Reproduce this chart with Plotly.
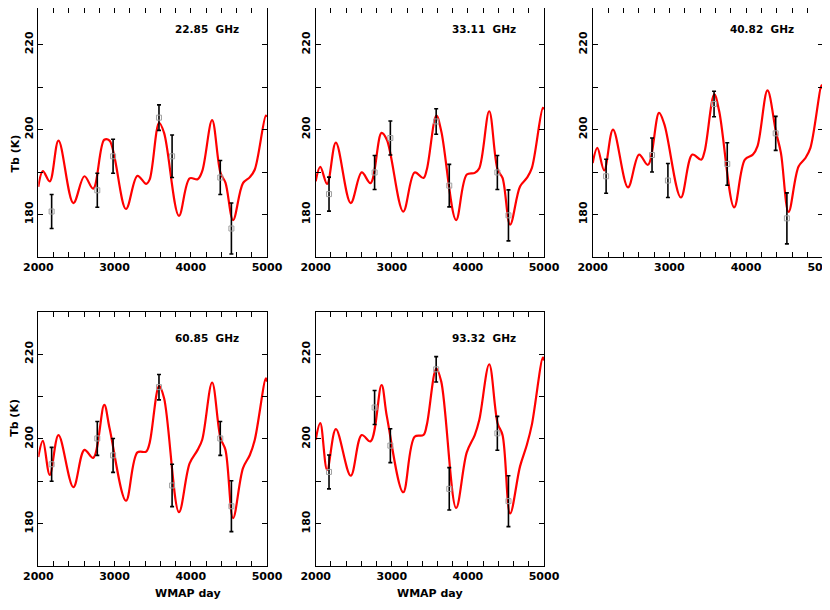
import plotly.graph_objects as go

curve_days = [2000, 2060, 2150, 2265, 2460, 2605, 2720, 2865, 2935, 3150,
              3300, 3415, 3460, 3585, 3650, 3845, 3985, 4090, 4150, 4280,
              4390, 4455, 4555, 4685, 4775, 4840, 4985, 5000]

tb_2285 = [186.5, 190.2, 187.8, 197.4, 182.7, 189.0, 186.1, 197.6, 197.4, 181.3,
           189.1, 187.2, 188.2, 201.6, 199.2, 179.7, 188.5, 188.3, 190.2, 202.2,
           189.8, 187.5, 178.7, 187.4, 188.8, 190.6, 203.3, 203.0]
tb_3311 = [187.8, 191.2, 187.2, 196.9, 182.7, 189.9, 187.4, 199.2, 197.6, 180.7,
           189.9, 188.6, 190.6, 203.3, 199.6, 178.7, 189.4, 189.8, 190.9, 204.3,
           190.6, 188.6, 177.6, 186.6, 188.6, 190.9, 205.1, 204.8]
tb_4082 = [192.1, 195.7, 190.4, 200.0, 186.4, 194.1, 191.7, 203.9, 201.2, 184.0,
           194.1, 192.9, 194.9, 208.3, 204.3, 181.7, 192.9, 194.1, 196.1, 209.2,
           199.5, 194.5, 180.6, 191.3, 193.3, 195.7, 210.4, 209.5]
tb_6085 = [195.7, 199.5, 191.5, 200.9, 188.6, 197.4, 195.5, 208.0, 202.5, 185.4,
           196.8, 197.0, 199.0, 212.5, 209.6, 182.7, 194.2, 197.4, 199.8, 213.3,
           200.2, 197.4, 181.3, 193.1, 196.2, 199.8, 214.3, 213.5]
tb_9332 = [199.8, 203.7, 192.7, 202.3, 191.3, 200.9, 199.4, 212.7, 205.3, 187.4,
           200.5, 200.9, 203.3, 216.6, 213.5, 183.7, 196.8, 200.9, 204.5, 217.6,
           203.7, 200.9, 182.4, 193.5, 198.6, 203.3, 219.2, 218.5]

# measurements with error bars
obs_days = [2175, 2774, 2981, 3583, 3755, 4387, 4533]
obs_err = [4, 4, 4, 3, 5, 4, 6]
obs_2285 = [180.7, 185.7, 193.7, 202.8, 193.7, 188.7, 176.7]
obs_3311 = [184.8, 189.9, 198.0, 201.9, 186.8, 189.9, 179.8]
obs_4082 = [189.0, 194.0, 188.0, 206.0, 191.9, 199.1, 179.1]
obs_6085 = [194.0, 200.1, 196.1, 212.2, 189.0, 200.1, 184.1]
obs_9332 = [192.2, 207.4, 198.4, 216.4, 188.2, 201.3, 185.3]

labels = ['22.85&nbsp; GHz', '33.11&nbsp; GHz', '40.82&nbsp; GHz',
          '60.85&nbsp; GHz', '93.32&nbsp; GHz']
curves = [tb_2285, tb_3311, tb_4082, tb_6085, tb_9332]
obs = [obs_2285, obs_3311, obs_4082, obs_6085, obs_9332]

W, H = 830, 610
OFF = 8  # page body margin
# panel boxes in page pixels: left, right, top, bottom
col_px = [(38.3, 267.0), (315.7, 544.0), (592.7, 822.7)]
row_px = [(8.0, 257.0), (311.7, 566.0)]
y_ranges = [[170, 228.6], [170, 230]]
cells = [(0, 0), (0, 1), (0, 2), (1, 0), (1, 1)]

FONT = 'DejaVu Sans'
fig = go.Figure()
layout = {}
annotations = []

for i, (r, c) in enumerate(cells):
    n = '' if i == 0 else str(i + 1)
    xa, ya = 'x' + n, 'y' + n
    x0, x1 = [v - OFF for v in col_px[c]]
    y0, y1 = [v - OFF for v in row_px[r]]
    common = dict(showline=True, linecolor='black', linewidth=1.3, mirror='allticks',
                  ticks='inside', ticklen=5, tickwidth=1.3, tickcolor='black',
                  showgrid=False, zeroline=False, automargin=False,
                  ticklabeloverflow='allow',
                  tickfont=dict(family=FONT, size=11, color='black', weight='bold'))
    layout['xaxis' + n] = dict(common, domain=[x0 / W, x1 / W], anchor=ya,
                               range=[2000, 5000], tickvals=[2000, 3000, 4000, 5000],
                               minor=dict(dtick=200, ticks='inside', ticklen=5,
                                          tickwidth=1.3, tickcolor='black'))
    layout['yaxis' + n] = dict(common, domain=[1 - y1 / H, 1 - y0 / H], anchor=xa,
                               range=y_ranges[r], tickvals=[180, 200, 220], tickangle=-90,
                               minor=dict(dtick=10, ticks='inside', ticklen=5,
                                          tickwidth=1.3, tickcolor='black'))

    fig.add_trace(go.Scatter(x=curve_days, y=curves[i], mode='lines', line_shape='spline',
                             line=dict(color='#ff0000', width=2.2), xaxis=xa, yaxis=ya,
                             showlegend=False))
    fig.add_trace(go.Scatter(x=obs_days, y=obs[i], mode='markers',
                             marker=dict(symbol='square-open', size=5, color='#a0a0a0',
                                         line=dict(width=1)),
                             error_y=dict(type='data', array=obs_err, color='black',
                                          thickness=1.6, width=2),
                             xaxis=xa, yaxis=ya, showlegend=False))
    annotations.append(dict(x=4210, y=223.7, xref=xa, yref=ya, text=labels[i],
                            showarrow=False,
                            font=dict(family=FONT, size=10.5, color='black', weight='bold')))
    if c == 0:
        annotations.append(dict(x=(15 - OFF) / W, y=1 - (row_px[r][0] + row_px[r][1]) / 2 / H
                                + OFF / H,
                                xref='paper', yref='paper', xanchor='center',
                                text='Tb (K)', textangle=-90, showarrow=False,
                                font=dict(family=FONT, size=11, color='black', weight='bold')))
    if r == 1:
        annotations.append(dict(x=(x0 + x1) / 2 / W, y=1 - (602 - OFF) / H,
                                xref='paper', yref='paper',
                                text='WMAP day', showarrow=False,
                                font=dict(family=FONT, size=11, color='black', weight='bold')))

fig.update_layout(width=W, height=H, margin=dict(l=0, r=0, t=0, b=0),
                  paper_bgcolor='white', plot_bgcolor='white',
                  annotations=annotations, **layout)
fig.write_html('out.html')
